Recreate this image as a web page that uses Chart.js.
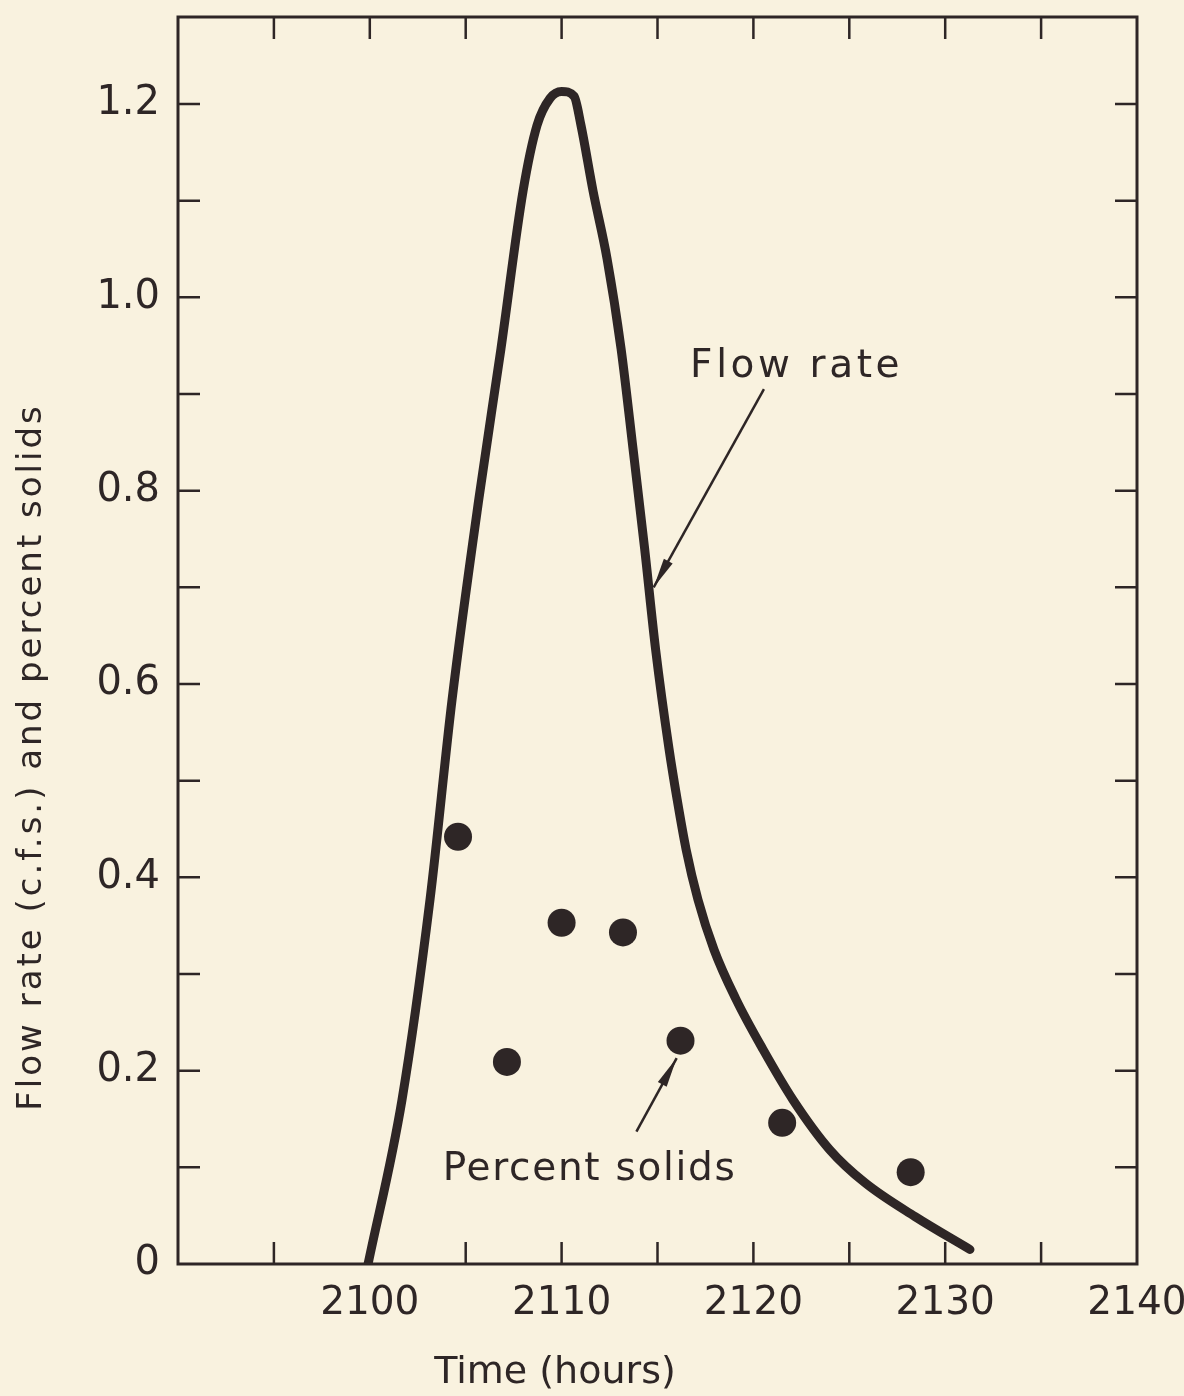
<!DOCTYPE html>
<html>
<head>
<meta charset="utf-8">
<script src="https://cdn.jsdelivr.net/npm/chart.js@4.4.1/dist/chart.umd.min.js"></script>
<style>
  html, body { margin: 0; padding: 0; background: #f9f2df; }
</style>
</head>
<body>
<canvas id="myChart" width="1184" height="1396"></canvas>
<script>
// flow rate curve (time in hours, flow in c.f.s.)
const flowTime = [2099.91, 2101.68, 2103.14, 2104.29, 2105.69, 2106.84, 2107.99, 2108.72, 2109.4, 2110.0, 2110.65, 2111.01, 2111.64, 2112.37, 2113.1, 2113.72, 2114.33, 2114.9, 2115.6, 2116.02, 2116.49, 2117.11, 2117.95, 2119.09, 2120.5, 2122.06, 2123.99, 2125.82, 2128.43, 2131.29];
const flowRate = [0, 0.170, 0.377, 0.584, 0.792, 0.947, 1.110, 1.178, 1.206, 1.213, 1.208, 1.178, 1.110, 1.040, 0.947, 0.844, 0.740, 0.636, 0.533, 0.481, 0.429, 0.377, 0.325, 0.274, 0.222, 0.170, 0.118, 0.084, 0.049, 0.015];

// percent solids samples
const solidsTime = [2104.6, 2107.15, 2110.0, 2113.2, 2116.2, 2121.5, 2128.2];
const solidsPct = [0.442, 0.209, 0.353, 0.343, 0.231, 0.146, 0.095];

// axis labels
const xLabels = [2100, 2110, 2120, 2130, 2140];
const yLabels = [0, 0.2, 0.4, 0.6, 0.8, 1.0, 1.2];

const ink = '#2e2626';
const paper = '#f9f2df';
const fam = "'DejaVu Sans', sans-serif";

// where the notes sit, in data units
const notes = {
  flow: { text: 'Flow rate', x: 2116.7, y: 0.918, spacing: '3.6px', from: [2120.55, 0.905], to: [2114.8, 0.70] },
  solids: { text: 'Percent solids', x: 2103.8, y: 0.087, spacing: '1.7px', from: [2113.9, 0.137], to: [2116.0, 0.213] }
};

function drawArrow(ctx, x1, y1, x2, y2) {
  ctx.beginPath();
  ctx.moveTo(x1, y1);
  ctx.lineTo(x2, y2);
  ctx.stroke();
  const a = Math.atan2(y2 - y1, x2 - x1);
  const len = 30, w = 5;
  const bx = x2 - len * Math.cos(a), by = y2 - len * Math.sin(a);
  ctx.beginPath();
  ctx.moveTo(x2, y2);
  ctx.lineTo(bx + w * Math.sin(a), by - w * Math.cos(a));
  ctx.lineTo(bx - w * Math.sin(a), by + w * Math.cos(a));
  ctx.closePath();
  ctx.fill();
}

const paperPlugin = {
  id: 'paper',
  beforeDraw(chart) {
    const ctx = chart.ctx;
    ctx.save();
    ctx.fillStyle = paper;
    ctx.fillRect(0, 0, chart.width, chart.height);
    ctx.restore();
  }
};

// box round the plot and short ticks pointing inward on all four sides
const framePlugin = {
  id: 'frame',
  beforeDatasetsDraw(chart) {
    const { ctx, chartArea: a, scales } = chart;
    const tl = 22;
    ctx.save();
    ctx.strokeStyle = ink;
    ctx.lineWidth = 2.5;
    scales.x.ticks.forEach(t => {
      if (t.value <= scales.x.min || t.value >= scales.x.max) return;
      const px = scales.x.getPixelForValue(t.value);
      ctx.beginPath();
      ctx.moveTo(px, a.bottom); ctx.lineTo(px, a.bottom - tl);
      ctx.moveTo(px, a.top); ctx.lineTo(px, a.top + tl);
      ctx.stroke();
    });
    scales.y.ticks.forEach(t => {
      if (t.value <= scales.y.min || t.value >= scales.y.max) return;
      const py = scales.y.getPixelForValue(t.value);
      ctx.beginPath();
      ctx.moveTo(a.left, py); ctx.lineTo(a.left + tl, py);
      ctx.moveTo(a.right, py); ctx.lineTo(a.right - tl, py);
      ctx.stroke();
    });
    ctx.lineWidth = 3;
    ctx.strokeRect(a.left, a.top, a.right - a.left, a.bottom - a.top);
    ctx.restore();
  }
};

const notesPlugin = {
  id: 'notes',
  afterDraw(chart) {
    const { ctx, scales } = chart;
    const sx = scales.x, sy = scales.y;
    ctx.save();
    ctx.fillStyle = ink;
    ctx.strokeStyle = ink;
    ctx.lineWidth = 2.5;

    Object.values(notes).forEach(n => {
      ctx.font = '39px ' + fam;
      ctx.letterSpacing = n.spacing;
      ctx.textAlign = 'left';
      ctx.textBaseline = 'alphabetic';
      ctx.fillText(n.text, sx.getPixelForValue(n.x), sy.getPixelForValue(n.y));
      drawArrow(ctx,
        sx.getPixelForValue(n.from[0]), sy.getPixelForValue(n.from[1]),
        sx.getPixelForValue(n.to[0]), sy.getPixelForValue(n.to[1]));
    });

    // axis titles
    ctx.letterSpacing = '0px';
    ctx.font = '38px ' + fam;
    ctx.textAlign = 'center';
    ctx.textBaseline = 'alphabetic';
    ctx.fillText('Time (hours)', 555, 1383);

    ctx.translate(32, 757);
    ctx.rotate(-Math.PI / 2);
    ctx.font = '34px ' + fam;
    ctx.letterSpacing = '3px';
    ctx.textBaseline = 'middle';
    ctx.fillText('Flow rate (c.f.s.) and percent solids', 0, 0);
    ctx.restore();
  }
};

new Chart('myChart', {
  type: 'scatter',
  data: {
    datasets: [
      {
        type: 'line',
        label: 'Flow rate',
        data: flowTime.map((t, i) => ({ x: t, y: flowRate[i] })),
        borderColor: ink,
        borderWidth: 9,
        borderCapStyle: 'round',
        borderJoinStyle: 'round',
        cubicInterpolationMode: 'monotone',
        pointRadius: 0,
        fill: false
      },
      {
        label: 'Percent solids',
        data: solidsTime.map((t, i) => ({ x: t, y: solidsPct[i] })),
        backgroundColor: ink,
        borderWidth: 0,
        pointRadius: 14,
        showLine: false
      }
    ]
  },
  options: {
    responsive: false,
    animation: false,
    devicePixelRatio: 1,
    layout: { padding: { top: 17, right: 47, left: 0, bottom: 0 } },
    plugins: { legend: { display: false }, tooltip: { enabled: false } },
    scales: {
      x: {
        type: 'linear',
        min: 2090,
        max: 2140,
        grid: { display: false, drawTicks: false },
        border: { display: false },
        ticks: {
          stepSize: 5,
          autoSkip: false,
          maxRotation: 0,
          padding: 16,
          color: ink,
          font: { family: fam, size: 39 },
          callback: v => xLabels.includes(v) ? String(v) : ''
        },
        afterFit: s => { s.height = 132; s.paddingLeft = 0; s.paddingRight = 0; }
      },
      y: {
        type: 'linear',
        min: 0,
        max: 1.29,
        grid: { display: false, drawTicks: false },
        border: { display: false },
        ticks: {
          stepSize: 0.1,
          includeBounds: false,
          autoSkip: false,
          padding: 18,
          color: ink,
          font: { family: fam, size: 40 },
          callback: v => {
            const k = Math.round(v * 10);
            const hit = yLabels.find(l => Math.round(l * 10) === k);
            if (hit === undefined) return '';
            return k === 0 ? '0' : hit.toFixed(1);
          }
        },
        afterFit: s => { s.width = 178; s.paddingTop = 0; s.paddingBottom = 0; }
      }
    }
  },
  plugins: [paperPlugin, framePlugin, notesPlugin]
});
</script>
</body>
</html>
